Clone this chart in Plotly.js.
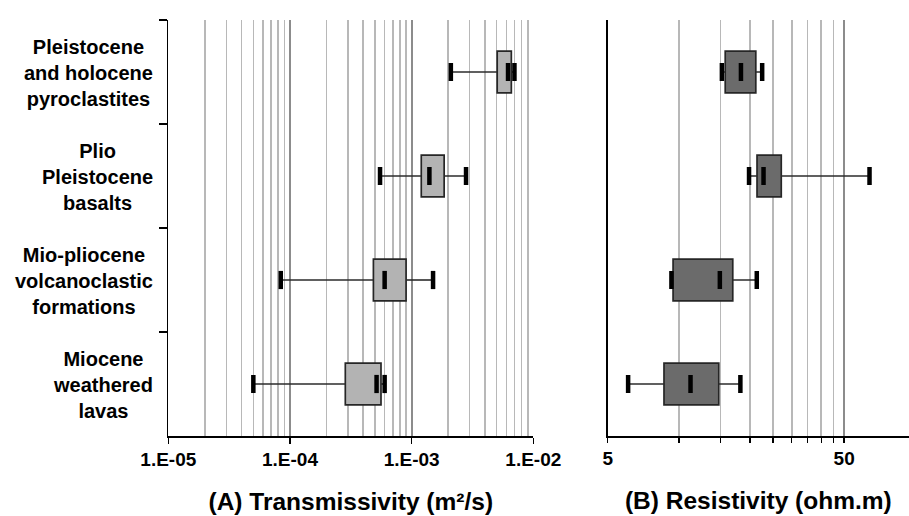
<!DOCTYPE html>
<html>
<head>
<meta charset="utf-8">
<script src="https://cdn.plot.ly/plotly-3.0.1.min.js"></script>
<style>html,body{margin:0;padding:0;background:#fff;}#chart{width:909px;height:516px;}</style>
</head>
<body>
<div id="chart"></div>
<script>
// Categories (top to bottom)
const categories = [
  'Pleistocene and holocene pyroclastites',
  'Plio Pleistocene basalts',
  'Mio-pliocene volcanoclastic formations',
  'Miocene weathered lavas'
];
const categoryLabels = [
  'Pleistocene<br>and holocene<br>pyroclastites',
  'Plio<br>Pleistocene<br>basalts',
  'Mio-pliocene<br>volcanoclastic<br>formations',
  'Miocene<br>weathered<br>lavas'
];

// (A) Transmissivity (m2/s)
const tMin = [2.1e-3, 5.5e-4, 8.4e-5, 5.0e-5];
const tQ1  = [5.05e-3, 1.2e-3, 4.85e-4, 2.85e-4];
const tMed = [6.2e-3, 1.4e-3, 6.0e-4, 5.15e-4];
const tQ3  = [6.6e-3, 1.85e-3, 9.0e-4, 5.6e-4];
const tMax = [7.0e-3, 2.8e-3, 1.5e-3, 6.0e-4];

// (B) Resistivity (ohm.m)
const rMin = [15.2, 19.8, 9.3, 6.1];
const rQ1  = [15.7, 21.4, 9.45, 8.65];
const rMed = [18.3, 22.8, 14.9, 11.2];
const rQ3  = [21.15, 27.1, 16.9, 14.75];
const rMax = [22.5, 64, 21.35, 18.2];

// Tick labels
const tTickVals = [1e-5, 1e-4, 1e-3, 1e-2];
const tTickText = ['1.E-05', '1.E-04', '1.E-03', '1.E-02'];
const rTickVals = [5, 50];
const rTickText = ['5', '50'];
const rMinorVals = [10, 15, 20, 25, 30, 35, 40, 45];
const rRange = [5, 94];

const tMinorVals = [];
[1e-5, 1e-4, 1e-3].forEach(d => { for (let k = 2; k <= 9; k++) tMinorVals.push(k * d); });

const FONT = '"Liberation Sans", Arial, Helvetica, sans-serif';
const W = 909;

function panelTraces(mn, q1, md, q3, mx, xa, ya, fill) {
  const wx = [], wy = [];
  categories.forEach((c, i) => {
    wx.push(mn[i], q1[i], null, q3[i], mx[i], null);
    wy.push(c, c, null, c, c, null);
  });
  const whisk = {type: 'scatter', mode: 'lines', x: wx, y: wy, xaxis: xa, yaxis: ya,
    line: {color: '#2b2b2b', width: 1.6}, hoverinfo: 'skip', connectgaps: false};
  const box = {type: 'bar', orientation: 'h', y: categories,
    x: q3.map((v, i) => v - q1[i]), base: q1, width: 0.4, xaxis: xa, yaxis: ya,
    marker: {color: fill, line: {color: '#262626', width: 1.7}}};
  const marks = {type: 'scatter', mode: 'markers',
    x: mn.concat(md, mx), y: categories.concat(categories, categories), xaxis: xa, yaxis: ya,
    marker: {symbol: 'line-ns', size: 13, color: '#000', line: {color: '#000', width: 4.5}}};
  return [box, whisk, marks];
}

const data = [].concat(
  panelTraces(tMin, tQ1, tMed, tQ3, tMax, 'x', 'y', '#b3b3b3'),
  panelTraces(rMin, rQ1, rMed, rQ3, rMax, 'x2', 'y2', '#6b6b6b')
);

const tickFont = {family: FONT, size: 19, weight: 700, color: '#000'};
const titleFont = {family: FONT, size: 24.5, weight: 700, color: '#000'};

const layout = {
  width: 909, height: 516,
  margin: {l: 0, r: 0, t: 20, b: 80},
  paper_bgcolor: '#fff', plot_bgcolor: '#fff',
  showlegend: false, barmode: 'overlay',
  xaxis: {
    type: 'log', domain: [168.3 / W, 533.3 / W], range: [Math.log10(tTickVals[0]), Math.log10(tTickVals[3])],
    anchor: 'y', tickmode: 'array', tickvals: tTickVals, ticktext: tTickText,
    ticks: 'outside', ticklen: 6, tickwidth: 1.5, tickcolor: '#000',
    showline: true, linecolor: '#000', linewidth: 1.5, zeroline: false,
    showgrid: true, gridcolor: '#8c8c8c', gridwidth: 1.8,
    minor: {tickmode: 'array', tickvals: tMinorVals, showgrid: true, gridcolor: '#b8b8b8', gridwidth: 1.6, ticks: ''},
    tickfont: tickFont, automargin: false,
    title: {text: '(A) Transmissivity (m²/s)', font: titleFont, standoff: 23}
  },
  yaxis: {
    type: 'category', categoryorder: 'array', categoryarray: categories, range: [3.5, -0.5],
    anchor: 'x', domain: [0, 1], ticks: 'outside', tickson: 'boundaries', ticklen: 8, tickwidth: 1.5, tickcolor: '#000',
    showticklabels: false, showline: true, linecolor: '#000', linewidth: 1.5, showgrid: false, zeroline: false,
    automargin: false, fixedrange: true
  },
  xaxis2: {
    type: 'log', domain: [607.7 / W, 1], range: [Math.log10(rRange[0]), Math.log10(rRange[1])],
    anchor: 'y2', tickmode: 'array', tickvals: rTickVals, ticktext: rTickText,
    ticks: 'outside', ticklen: 5, tickwidth: 1.5, tickcolor: '#000',
    showline: true, linecolor: '#000', linewidth: 1.5, zeroline: false,
    showgrid: true, gridcolor: '#8c8c8c', gridwidth: 1.8,
    minor: {tickmode: 'array', tickvals: rMinorVals, showgrid: true, gridcolor: '#b8b8b8', gridwidth: 1.6,
            ticks: 'outside', ticklen: 5, tickwidth: 1.3, tickcolor: '#000'},
    tickfont: tickFont, automargin: false,
    title: {text: '(B) Resistivity (ohm.m)', font: titleFont, standoff: 23}
  },
  yaxis2: {
    type: 'category', categoryorder: 'array', categoryarray: categories, range: [3.5, -0.5],
    anchor: 'x2', domain: [0, 1], ticks: '', showticklabels: false,
    showline: true, linecolor: '#000', linewidth: 1.5, showgrid: false, zeroline: false, automargin: false
  },
  annotations: categories.map((c, i) => ({
    xref: 'paper', yref: 'y', x: 155 / W, y: c, xanchor: 'right', yanchor: 'middle', yshift: -1,
    align: 'center', showarrow: false, text: categoryLabels[i],
    font: {family: FONT, size: 20, weight: 700, color: '#000'}
  }))
};

Plotly.newPlot('chart', data, layout, {displayModeBar: false, staticPlot: true});
</script>
</body>
</html>
